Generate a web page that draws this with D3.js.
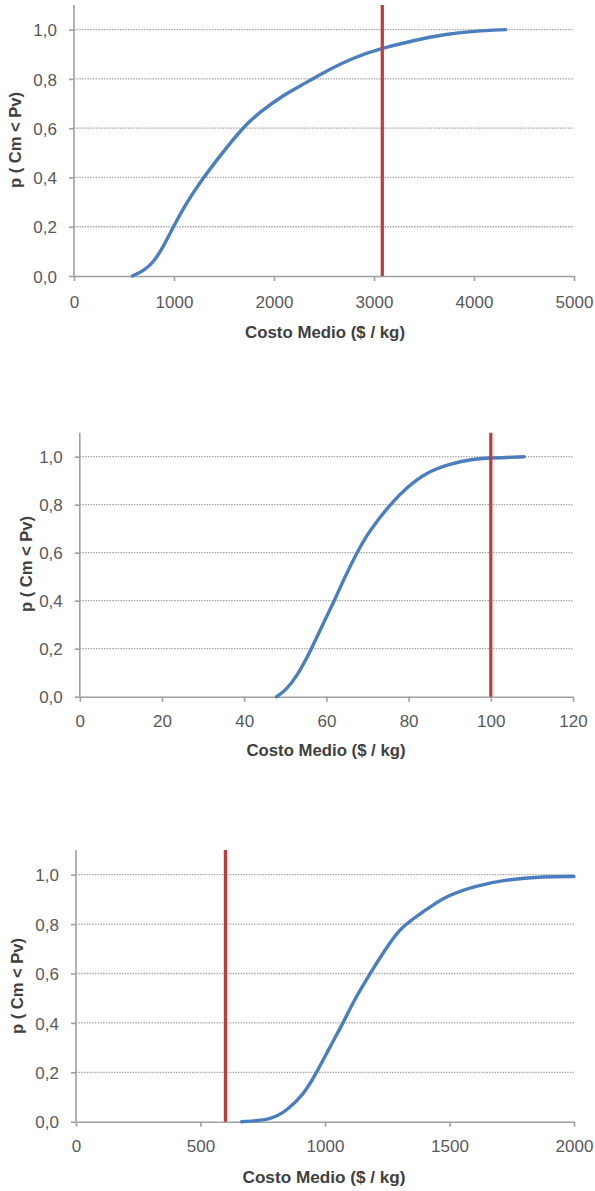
<!DOCTYPE html>
<html>
<head>
<meta charset="utf-8">
<script src="https://cdn.jsdelivr.net/npm/d3@7"></script>
<style>
  body { margin: 0; background: #fff; }
  svg { display: block; font-family: "Liberation Sans", Arial, sans-serif; }
  .tick text { fill: #595959; }
  .axis-title { fill: #404040; font-weight: bold; }
</style>
</head>
<body>
<svg id="chart" width="595" height="1191"></svg>
<script>
// chart 1
const costo1 = [585, 700, 793, 893, 993, 1127, 1260, 1460, 1693, 1860, 2093, 2260, 2460, 2800, 3083, 3377, 3710, 4000, 4317];
const prob1  = [0, 0.022, 0.055, 0.118, 0.2, 0.298, 0.38, 0.488, 0.605, 0.666, 0.734, 0.77, 0.819, 0.888, 0.925, 0.954, 0.982, 0.994, 1.0];
const ticksX1 = [0, 1000, 2000, 3000, 4000, 5000];
const pv1 = 3083;

// chart 2
const costo2 = [47.9, 50, 52.8, 56.4, 59.2, 62.1, 64.1, 67.4, 69.8, 72.6, 75.5, 79.5, 84.4, 89.8, 95.3, 100, 108.1];
const prob2  = [0, 0.025, 0.083, 0.2, 0.305, 0.405, 0.485, 0.6, 0.672, 0.738, 0.8, 0.872, 0.935, 0.969, 0.99, 0.994, 1.0];
const ticksX2 = [0, 20, 40, 60, 80, 100, 120];
const pv2 = 100;

// chart 3
const costo3 = [665, 786, 846, 913, 967, 1020, 1073, 1120, 1181, 1248, 1301, 1345, 1405, 1481, 1603, 1725, 1878, 2000];
const prob3  = [0, 0.008, 0.045, 0.108, 0.2, 0.303, 0.4, 0.498, 0.6, 0.707, 0.78, 0.815, 0.857, 0.912, 0.955, 0.98, 0.993, 0.993];
const ticksX3 = [0, 500, 1000, 1500, 2000];
const pv3 = 600;

const ticksY = [0, 0.2, 0.4, 0.6, 0.8, 1.0];

const charts = [
  { x: costo1, y: prob1, ticks: ticksX1, xmax: 5000, pv: pv1,
    left: 74, right: 574, top: 5, bottom: 276,
    ytx: 15, yty: 140, ylab: 302, xtitleY: 332, xtitleX: 325, tw: 160 },
  { x: costo2, y: prob2, ticks: ticksX2, xmax: 120, pv: pv2,
    left: 79.8, right: 573, top: 432.7, bottom: 696.7,
    ytx: 26, yty: 564, ylab: 722, xtitleY: 750, xtitleX: 326, tw: 159 },
  { x: costo3, y: prob3, ticks: ticksX3, xmax: 2000, pv: pv3,
    left: 76, right: 574, top: 850, bottom: 1121.7,
    ytx: 17, yty: 986, ylab: 1147, xtitleY: 1177, xtitleX: 324, tw: 163 }
];

const svg = d3.select("#chart");
const fmtY = d => d3.format(".1f")(d).replace(".", ",");

charts.forEach(function(c) {
  const x = d3.scaleLinear().domain([0, c.xmax]).range([c.left, c.right]);
  const y = d3.scaleLinear().domain([0, 1.1]).range([c.bottom, c.top]);
  const g = svg.append("g");

  // gridlines
  g.selectAll("line.grid").data(ticksY.slice(1)).join("line")
    .attr("class", "grid")
    .attr("x1", c.left).attr("x2", c.right)
    .attr("y1", d => y(d)).attr("y2", d => y(d))
    .attr("stroke", "#a6a6a6").attr("stroke-width", 1.3)
    .attr("stroke-dasharray", "1.5,1.2");

  // axes
  const xAxis = g.append("g").attr("transform", `translate(0,${c.bottom})`)
    .call(d3.axisBottom(x).tickValues(c.ticks).tickFormat(d3.format("d")).tickSize(5).tickSizeOuter(0));
  const yAxis = g.append("g").attr("transform", `translate(${c.left},0)`)
    .call(d3.axisLeft(y).tickValues(ticksY).tickFormat(fmtY).tickSize(5).tickSizeOuter(0).tickPadding(12));
  [xAxis, yAxis].forEach(a => {
    a.select(".domain").attr("stroke", "#a0a0a0").attr("stroke-width", 1.6);
    a.selectAll(".tick line").attr("stroke", "#a0a0a0").attr("stroke-width", 1.6);
    a.selectAll(".tick text").attr("font-size", 17);
  });
  yAxis.select(".domain").attr("d", `M0,${c.bottom}V${c.top}`);

  xAxis.selectAll(".tick text").attr("dy", null)
    .attr("y", c.ylab - c.bottom).attr("dominant-baseline", "central");
  yAxis.selectAll(".tick text").attr("dy", "0.36em");

  // curve
  const line = d3.line().x((d, i) => x(c.x[i])).y(d => y(d)).curve(d3.curveBasis);
  g.append("path").datum(c.y)
    .attr("d", line)
    .attr("fill", "none").attr("stroke", "#4a7ebf").attr("stroke-width", 3.4)
    .attr("stroke-linecap", "round");

  // price line
  g.append("line")
    .attr("x1", x(c.pv)).attr("x2", x(c.pv))
    .attr("y1", c.top).attr("y2", c.bottom)
    .attr("stroke", "#c0393b").attr("stroke-width", 3.2);

  // titles
  g.append("text").attr("class", "axis-title")
    .attr("x", c.xtitleX).attr("y", c.xtitleY)
    .attr("text-anchor", "middle").attr("dominant-baseline", "central")
    .attr("font-size", 16.5)
    .attr("textLength", c.tw).attr("lengthAdjust", "spacingAndGlyphs")
    .text("Costo Medio ($ / kg)");

  g.append("text").attr("class", "axis-title")
    .attr("transform", `translate(${c.ytx},${c.yty}) rotate(-90)`)
    .attr("text-anchor", "middle").attr("dominant-baseline", "central")
    .attr("font-size", 16.5)
    .attr("textLength", 96).attr("lengthAdjust", "spacingAndGlyphs")
    .text("p ( Cm < Pv)");
});
</script>
</body>
</html>
